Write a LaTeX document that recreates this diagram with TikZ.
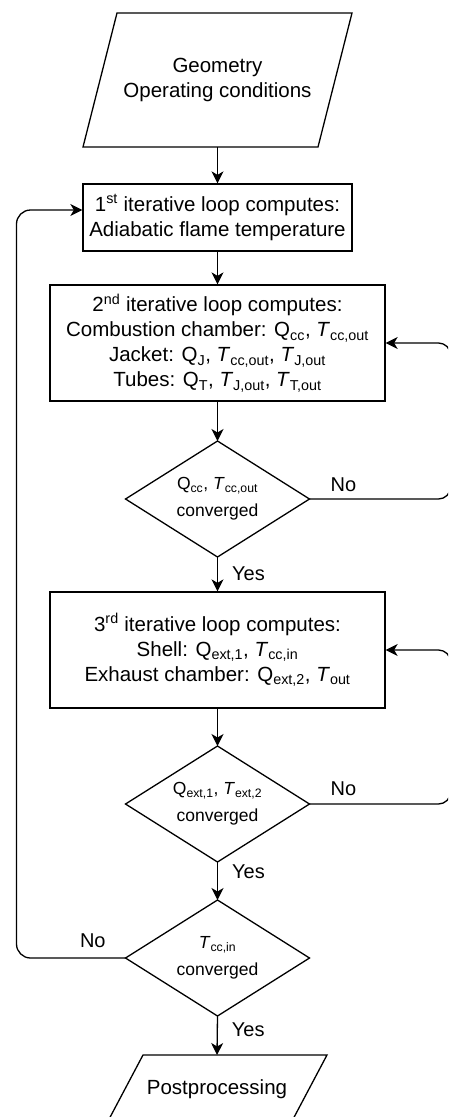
\documentclass[tikz,border=0pt]{standalone}
\usepackage{fontspec}
\setmainfont{Liberation Sans}
\usepackage{amsmath}
\usetikzlibrary{arrows.meta}
\newcommand\sbs[1]{\ensuremath{_{\text{#1}}}}
\newcommand\sps[1]{\ensuremath{^{\text{#1}}}}
\begin{document}
\begin{tikzpicture}[x=1pt,y=-1pt,line width=1.3pt,
  arr/.style={-{Stealth[length=12pt,width=12pt,inset=3.5pt]}},
  txt/.style={font=\fontsize{20.5}{25}\selectfont,align=center},
  dtxt/.style={font=\fontsize{17.5}{27}\selectfont,align=center},
  box/.style={draw,txt,inner sep=0pt},
  frame/.style={inner sep=0pt,outer sep=0pt},
  lbl/.style={font=\fontsize{20}{24}\selectfont,inner sep=0pt}]
\useasboundingbox (0,0) rectangle (448,1117);
\clip (0,0) rectangle (448,1117);

% input
\node[txt,frame,minimum width=269pt,minimum height=134pt] (in1) at (217.5,80) {Geometry\\Operating conditions};
\draw ([xshift=34pt]in1.north west) -- (in1.north east) -- ([xshift=-34pt]in1.south east) -- (in1.south west) -- cycle;

% boxes
\node[box,minimum width=269pt,minimum height=67pt] (b1) at (217.5,217.5) {1\sps{st} iterative loop computes:\\Adiabatic flame temperature};
\node[box,minimum width=335pt,minimum height=116pt] (b2) at (217.5,343) {2\sps{nd} iterative loop computes:\\Combustion chamber: Q\sbs{cc}, \textit{T}\sbs{cc,out}\\Jacket: Q\sbs{J}, \textit{T}\sbs{cc,out}, \textit{T}\sbs{J,out}\\Tubes: Q\sbs{T}, \textit{T}\sbs{J,out}, \textit{T}\sbs{T,out}};

\node[dtxt,frame,minimum width=184pt,minimum height=116pt] (d1) at (217.5,499) {Q\sbs{cc}, \textit{T}\sbs{cc,out}\\converged};
\draw (d1.north) -- (d1.east) -- (d1.south) -- (d1.west) -- cycle;

\node[box,minimum width=335pt,minimum height=116pt] (b3) at (217.5,650) {3\sps{rd} iterative loop computes:\\Shell: Q\sbs{ext,1}, \textit{T}\sbs{cc,in}\\Exhaust chamber: Q\sbs{ext,2}, \textit{T}\sbs{out}};

\node[dtxt,frame,minimum width=184pt,minimum height=116pt] (d2) at (217.5,804) {Q\sbs{ext,1}, \textit{T}\sbs{ext,2}\\converged};
\draw (d2.north) -- (d2.east) -- (d2.south) -- (d2.west) -- cycle;

\node[dtxt,frame,minimum width=184pt,minimum height=116pt] (d3) at (217.5,958) {\textit{T}\sbs{cc,in}\\converged};
\draw (d3.north) -- (d3.east) -- (d3.south) -- (d3.west) -- cycle;

\node[txt,frame,minimum width=220pt,minimum height=68pt] (out) at (217,1089) {Postprocessing};
\draw ([xshift=36pt]out.north west) -- (out.north east) -- ([xshift=-36pt]out.south east) -- (out.south west) -- cycle;

% connectors
\draw[arr] (in1.south) -- (b1.north);
\draw[arr] (b1.south) -- (b2.north);
\draw[arr] (b2.south) -- (d1.north);
\draw[arr] (d1.south) -- node[lbl,pos=0.5,right=14pt] {Yes} (b3.north);
\draw[arr] (b3.south) -- (d2.north);
\draw[arr] (d2.south) -- node[lbl,pos=0.26,right=14pt] {Yes} (d3.north);
\draw[arr] (d3.south) -- node[lbl,pos=0.36,right=14pt] {Yes} (out.north);

\draw[arr,rounded corners=12pt] (d1.east) -- node[lbl,pos=0.24,above=7pt] {No} ++(141,0) |- (b2.east);
\draw[arr,rounded corners=12pt] (d2.east) -- node[lbl,pos=0.24,above=8pt] {No} ++(141,0) |- (b3.east);
\draw[arr,rounded corners=14pt] (d3.west) -- node[lbl,pos=0.30,above=10pt] {No} ++(-109,0) |- ([yshift=7.5pt]b1.west);
\end{tikzpicture}
\end{document}
